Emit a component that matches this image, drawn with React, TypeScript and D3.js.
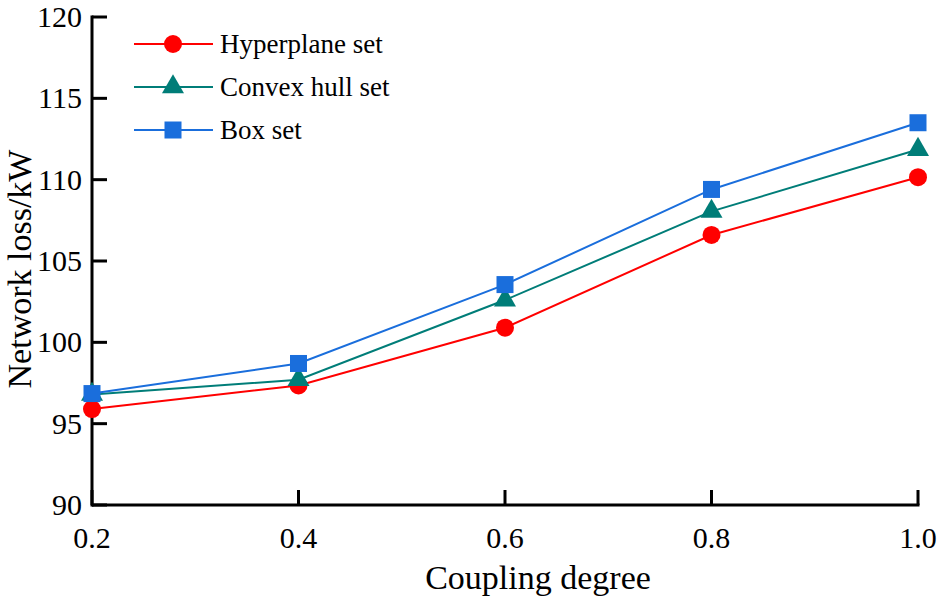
import React from 'react';
import * as d3 from 'd3';

const couplingDegree = [0.2, 0.4, 0.6, 0.8, 1.0];
const hyperplaneSet = [95.9, 97.35, 100.9, 106.6, 110.15];
const convexHullSet = [96.8, 97.7, 102.6, 108.05, 111.85];
const boxSet = [96.85, 98.7, 103.55, 109.4, 113.5];
const yTicks = [90, 95, 100, 105, 110, 115, 120];

const series = [
  { name: 'Hyperplane set', values: hyperplaneSet, color: '#ff0000', marker: 'circle' },
  { name: 'Convex hull set', values: convexHullSet, color: '#007d78', marker: 'triangle' },
  { name: 'Box set', values: boxSet, color: '#1a6edc', marker: 'square' },
];

const W = 945;
const H = 598;
const margin = { top: 17, right: 27, bottom: 93, left: 92 };
const font = '"Liberation Serif", "Times New Roman", serif';

function Marker({ type, x, y, color }: { type: string; x: number; y: number; color: string }) {
  if (type === 'circle') return <circle cx={x} cy={y} r={9} fill={color} />;
  if (type === 'square') return <rect x={x - 8.5} y={y - 8.5} width={17} height={17} fill={color} />;
  const tri = d3.symbol().type(d3.symbolTriangle).size(210)();
  return <path d={tri || ''} transform={`translate(${x},${y})`} fill={color} />;
}

export default function App() {
  const x = d3.scaleLinear().domain([0.2, 1.0]).range([margin.left, W - margin.right]);
  const y = d3.scaleLinear().domain([90, 120]).range([H - margin.bottom, margin.top]);
  const line = d3.line<number>()
    .x((_, i) => x(couplingDegree[i]))
    .y(d => y(d));

  const x0 = margin.left;
  const y0 = H - margin.bottom;

  return (
    <div style={{ position: 'fixed', left: 0, top: 0 }}>
      <svg width={W} height={H} style={{ display: 'block', background: '#fff' }} fontFamily={font}>
        {/* axes */}
        <line x1={x0} y1={y(120) - 1.5} x2={x0} y2={y0 + 1.5} stroke="#000" strokeWidth={3} />
        <line x1={x0} y1={y0} x2={x(1.0) + 1.5} y2={y0} stroke="#000" strokeWidth={3} />
        {yTicks.map(t => (
          <g key={t}>
            <line x1={x0} x2={x0 + 15} y1={y(t)} y2={y(t)} stroke="#000" strokeWidth={3} />
            <text x={82} y={y(t)} dy="0.33em" textAnchor="end" fontSize={30}>{t}</text>
          </g>
        ))}
        {couplingDegree.map(t => (
          <g key={t}>
            <line x1={x(t)} x2={x(t)} y1={y0} y2={y0 - 15} stroke="#000" strokeWidth={3} />
            <text x={x(t)} y={548} textAnchor="middle" fontSize={30}>{t.toFixed(1)}</text>
          </g>
        ))}
        <text x={538} y={589} textAnchor="middle" fontSize={34}>Coupling degree</text>
        <text transform={`translate(31,269) rotate(-90)`} textAnchor="middle" fontSize={34}>Network loss/kW</text>

        {/* series */}
        {series.map(s => (
          <g key={s.name}>
            <path d={line(s.values) || ''} fill="none" stroke={s.color} strokeWidth={2} />
            {s.values.map((v, i) => (
              <Marker key={i} type={s.marker} x={x(couplingDegree[i])} y={y(v)} color={s.color} />
            ))}
          </g>
        ))}

        {/* legend */}
        {series.map((s, i) => {
          const ly = 44 + i * 43;
          return (
            <g key={s.name}>
              <line x1={134} x2={213} y1={ly} y2={ly} stroke={s.color} strokeWidth={2} />
              <Marker type={s.marker} x={173} y={ly} color={s.color} />
              <text x={220} y={ly} dy="0.33em" fontSize={27}>{s.name}</text>
            </g>
          );
        })}
      </svg>
    </div>
  );
}
